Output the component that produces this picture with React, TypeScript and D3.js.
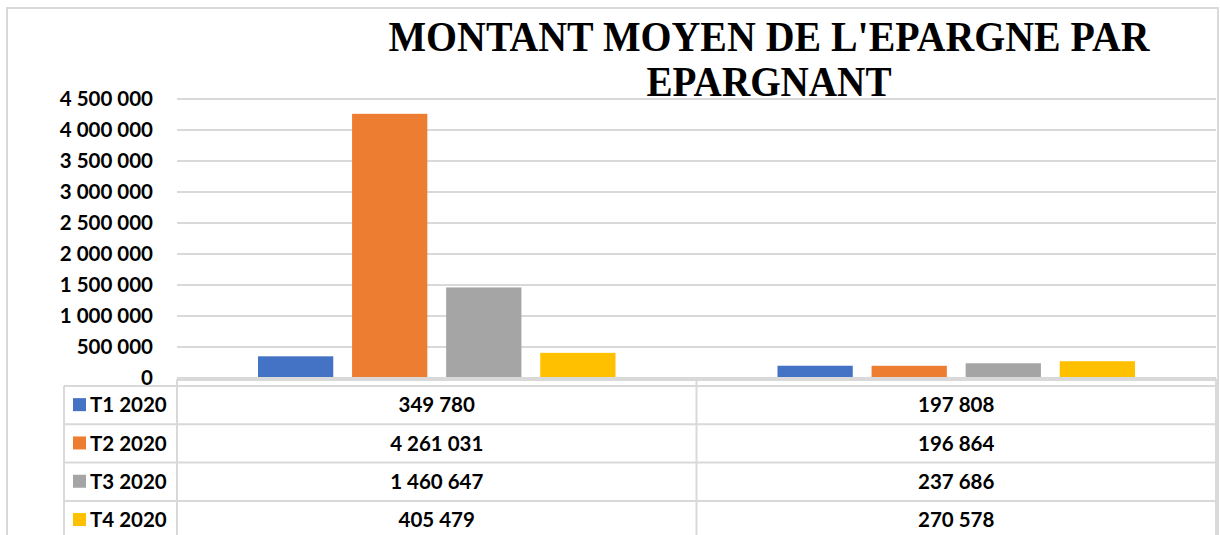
import { useEffect, useRef } from 'react';
import * as d3 from 'd3';

// two groups, no category labels shown in the table header
const categories = ['groupe1', 'groupe2'];
const seriesNames = ['T1 2020', 'T2 2020', 'T3 2020', 'T4 2020'];
const seriesColors = ['#4472C4', '#ED7D31', '#A5A5A5', '#FFC000'];
const t1Values = [349780, 197808];
const t2Values = [4261031, 196864];
const t3Values = [1460647, 237686];
const t4Values = [405479, 270578];
const yTicks = [0, 500000, 1000000, 1500000, 2000000, 2500000, 3000000, 3500000, 4000000, 4500000];
const titleLines = ["MONTANT MOYEN DE L'EPARGNE PAR", 'EPARGNANT'];

const seriesValues = [t1Values, t2Values, t3Values, t4Values];

const width = 1220;
const height = 535;

const fmt = (v: number) => d3.format(',')(v).replace(/,/g, ' ');

const App = () => {
  const svgRef = useRef<SVGSVGElement | null>(null);

  useEffect(() => {
    const svg = d3.select(svgRef.current);
    svg.selectAll('*').remove();

    const grid = '#d9d9d9';
    const font = 'Lato, "Open Sans", sans-serif';
    const plotLeft = 177;
    const plotRight = 1216;
    const plotBottom = 378;
    const plotTop = 99;

    // outer chart border
    svg.append('rect')
      .attr('x', 7).attr('y', 8)
      .attr('width', 1211).attr('height', 540)
      .attr('fill', 'white')
      .attr('stroke', grid).attr('stroke-width', 2);

    // title
    const title = svg.append('g');
    const titleLens = [761, 245];
    const titleY = [51, 96];
    titleLines.forEach((t, i) => {
      title.append('text')
        .attr('x', 769)
        .attr('y', titleY[i])
        .attr('text-anchor', 'middle')
        .attr('font-family', '"Liberation Serif", "Times New Roman", serif')
        .attr('font-weight', 700)
        .attr('font-size', 43)
        .attr('textLength', titleLens[i])
        .attr('lengthAdjust', 'spacingAndGlyphs')
        .attr('fill', '#000')
        .text(t);
    });

    const y = d3.scaleLinear().domain([0, 4500000]).range([plotBottom, plotTop]);
    const x0 = d3.scaleBand<number>()
      .domain(categories.map((_, i) => i))
      .range([plotLeft, plotRight]);
    const bw = x0.bandwidth();
    const x1 = d3.scaleBand<number>()
      .domain(seriesNames.map((_, i) => i))
      .range([81, bw - 81])
      .paddingInner(0.2);

    // gridlines
    svg.append('g')
      .selectAll('line')
      .data(yTicks.slice(1))
      .enter()
      .append('line')
      .attr('x1', plotLeft).attr('x2', plotRight)
      .attr('y1', d => y(d)).attr('y2', d => y(d))
      .attr('stroke', grid).attr('stroke-width', 2);

    // y tick labels
    svg.append('g')
      .selectAll('text')
      .data(yTicks)
      .enter()
      .append('text')
      .attr('x', 153)
      .attr('y', d => y(d))
      .attr('dy', '0.35em')
      .attr('text-anchor', 'end')
      .attr('font-family', font)
      .attr('font-weight', 700)
      .attr('font-size', 20.5)
      .attr('fill', '#000')
      .text(d => fmt(d));

    // bars
    const groups = svg.append('g')
      .selectAll('g')
      .data(categories.map((_, ci) => ci))
      .enter()
      .append('g')
      .attr('transform', ci => `translate(${x0(ci)},0)`);

    groups.selectAll('rect')
      .data(ci => seriesValues.map((vals, si) => ({ si, v: vals[ci] })))
      .enter()
      .append('rect')
      .attr('x', d => x1(d.si) as number)
      .attr('y', d => y(d.v))
      .attr('width', x1.bandwidth())
      .attr('height', d => plotBottom - y(d.v))
      .attr('fill', d => seriesColors[d.si]);

    // category axis line
    svg.append('line')
      .attr('x1', plotLeft).attr('x2', plotRight)
      .attr('y1', plotBottom).attr('y2', plotBottom)
      .attr('stroke', grid).attr('stroke-width', 2);

    // data table
    const table = svg.append('g');
    const headerTop = 380;
    const rowTop = 386;
    const rowH = 38.3;
    const tableLeft = 64;
    const line = (xa: number, ya: number, xb: number, yb: number) =>
      table.append('line')
        .attr('x1', xa).attr('y1', ya).attr('x2', xb).attr('y2', yb)
        .attr('stroke', grid).attr('stroke-width', 2);

    line(plotLeft, headerTop, plotRight, headerTop);
    for (let r = 0; r <= seriesNames.length; r++) {
      line(tableLeft, rowTop + r * rowH, plotRight, rowTop + r * rowH);
    }
    line(tableLeft, rowTop, tableLeft, height + 5);
    line(plotLeft, headerTop - 1, plotLeft, height + 5);
    categories.forEach((_, ci) => {
      const xe = (x0(ci) as number) + bw;
      line(xe, headerTop - 1, xe, height + 5);
    });

    seriesNames.forEach((name, si) => {
      const cy = rowTop + si * rowH + rowH / 2;
      table.append('rect')
        .attr('x', 73).attr('y', cy - 7)
        .attr('width', 13).attr('height', 13)
        .attr('fill', seriesColors[si]);
      table.append('text')
        .attr('x', 90).attr('y', cy)
        .attr('dy', '0.35em')
        .attr('font-family', font)
        .attr('font-weight', 700)
        .attr('font-size', 20.5)
        .attr('fill', '#000')
        .text(name);
      categories.forEach((_, ci) => {
        table.append('text')
          .attr('x', (x0(ci) as number) + bw / 2)
          .attr('y', cy)
          .attr('dy', '0.35em')
          .attr('text-anchor', 'middle')
          .attr('font-family', font)
          .attr('font-weight', 700)
          .attr('font-size', 20.5)
          .attr('fill', '#000')
          .text(fmt(seriesValues[si][ci]));
      });
    });
  }, []);

  return (
    <div style={{ position: 'absolute', left: 0, top: 0 }}>
      <svg ref={svgRef} width={width} height={height} style={{ display: 'block' }}></svg>
    </div>
  );
};

export default App;
